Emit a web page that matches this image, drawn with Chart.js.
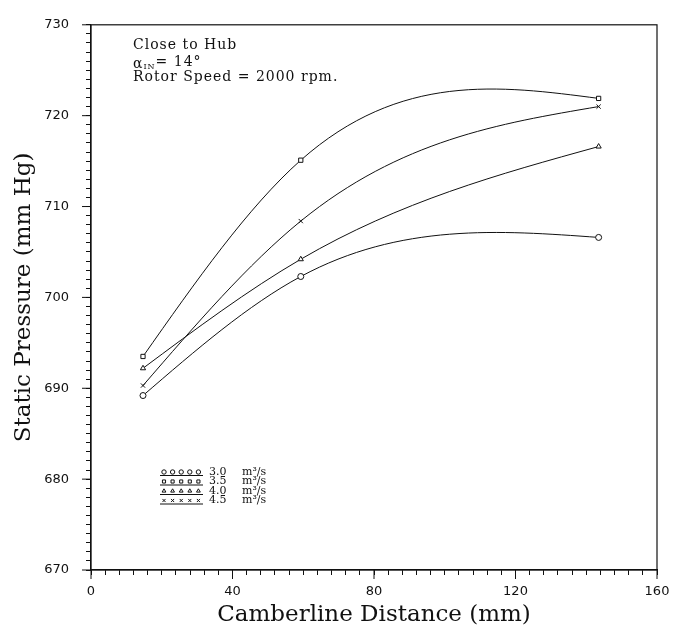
<!DOCTYPE html>
<html>
<head>
<meta charset="utf-8">
<script src="https://cdn.jsdelivr.net/npm/chart.js@4"></script>
<style>
  html, body { margin: 0; padding: 0; background: #fff; }
  #wrap { width: 684px; height: 630px; }
</style>
</head>
<body>
<div id="wrap"><canvas id="pressure"></canvas></div>
<script>
// values
const camberline = [14.7, 59.3, 143.5];
const flowLabels = ['3.0', '3.5', '4.0', '4.5'];
const pressure30 = [689.2, 702.3, 706.6];
const pressure35 = [693.5, 715.1, 721.9];
const pressure40 = [692.2, 704.2, 716.6];
const pressure45 = [690.3, 708.4, 721.0];
const markers = ['circle', 'rect', 'triangle', 'crossRot'];
const xMajorTicks = [0, 40, 80, 120, 160];
const yMajorTicks = [670, 680, 690, 700, 710, 720, 730];

const series = [pressure30, pressure35, pressure40, pressure45];
const INK = '#111';

const datasets = series.map((vals, i) => ({
  label: flowLabels[i] + ' m³/s',
  data: camberline.map((x, j) => ({ x: x, y: vals[j] })),
  showLine: false,
  borderColor: INK,
  backgroundColor: '#fff',
  pointStyle: markers[i],
  pointRadius: 3,
  pointBorderColor: INK,
  pointBackgroundColor: '#fff',
  pointBorderWidth: 1,
}));

// natural cubic spline through the point elements of each series,
// drawn segment by segment as bezier curves
const splineCurves = {
  id: 'splineCurves',
  beforeDatasetsDraw: (chart) => {
    const { ctx } = chart;
    ctx.save();
    ctx.strokeStyle = INK;
    ctx.lineWidth = 1;
    chart.data.datasets.forEach((ds, i) => {
      const pts = chart.getDatasetMeta(i).data;
      if (pts.length < 3) return;
      const [p0, p1, p2] = pts;
      const h0 = p1.x - p0.x, h1 = p2.x - p1.x;
      const s0 = (p1.y - p0.y) / h0, s1 = (p2.y - p1.y) / h1;
      const M1 = 6 * (s1 - s0) / (2 * (h0 + h1));
      const m0 = s0 - h0 * M1 / 6;
      const m1 = s0 + h0 * M1 / 3;
      const m2 = s1 + h1 * M1 / 6;
      const segs = [[p0, p1, m0, m1], [p1, p2, m1, m2]];
      ctx.beginPath();
      ctx.moveTo(p0.x, p0.y);
      segs.forEach(([u, v, mu, mv]) => {
        const t = (v.x - u.x) / 3;
        ctx.bezierCurveTo(u.x + t, u.y + mu * t, v.x - t, v.y - mv * t, v.x, v.y);
      });
      ctx.stroke();
    });
    ctx.restore();
  }
};

const frameAndExtras = {
  id: 'frameAndExtras',
  afterDraw: (chart) => {
    const { ctx, chartArea: a, scales } = chart;
    ctx.save();
    ctx.strokeStyle = INK;
    ctx.lineWidth = 1.2;
    ctx.strokeRect(a.left, a.top, a.right - a.left, a.bottom - a.top);

    // longer major ticks
    ctx.lineWidth = 1;
    ctx.beginPath();
    xMajorTicks.forEach(v => {
      const px = scales.x.getPixelForValue(v);
      ctx.moveTo(px, a.bottom);
      ctx.lineTo(px, a.bottom + 9);
    });
    yMajorTicks.forEach(v => {
      const py = scales.y.getPixelForValue(v);
      ctx.moveTo(a.left, py);
      ctx.lineTo(a.left - 9, py);
    });
    ctx.stroke();

    // notes in top-left
    ctx.fillStyle = INK;
    ctx.textBaseline = 'middle';
    ctx.textAlign = 'left';
    ctx.letterSpacing = '1px';
    ctx.font = '14px "DejaVu Serif"';
    ctx.fillText('Close to Hub', 133, 45);
    ctx.fillText('α', 133, 64);
    let ax = 133 + ctx.measureText('α').width;
    ctx.font = '8px "DejaVu Serif"';
    ctx.fillText('IN', ax, 67);
    ax += ctx.measureText('IN').width;
    ctx.font = '14px "DejaVu Serif"';
    ctx.fillText('= 14°', ax, 62);
    ctx.fillText('Rotor Speed = 2000 rpm.', 133, 77);
    ctx.letterSpacing = '0px';

    // legend
    chart.data.datasets.forEach((ds, i) => {
      const y = 472 + i * 9.5;
      ctx.strokeStyle = INK;
      ctx.beginPath();
      ctx.moveTo(160, y + 3.5);
      ctx.lineTo(203, y + 3.5);
      ctx.stroke();
      for (let k = 0; k < 5; k++) {
        ctx.fillStyle = '#fff';
        Chart.helpers.drawPoint(ctx, {
          pointStyle: ds.pointStyle, radius: 2.2, rotation: 0, borderWidth: 1
        }, 164 + k * 8.6, y);
      }
      ctx.fillStyle = INK;
      ctx.font = '11px "DejaVu Serif"';
      ctx.fillText(flowLabels[i], 209, y);
      ctx.fillText('m³/s', 242, y);
    });
    ctx.restore();
  }
};

new Chart(document.getElementById('pressure'), {
  type: 'line',
  data: { datasets: datasets },
  options: {
    responsive: true,
    maintainAspectRatio: false,
    animation: false,
    layout: { padding: { top: 10, right: 27, left: 0, bottom: 0 } },
    plugins: {
      legend: { display: false },
      tooltip: { enabled: false },
    },
    scales: {
      x: {
        type: 'linear',
        min: 0,
        max: 160,
        afterFit: (s) => { s.height = 60; },
        border: { display: true, color: INK, width: 1.2 },
        grid: { drawOnChartArea: false, drawTicks: true, tickLength: 5, tickColor: INK, tickWidth: 1 },
        ticks: {
          stepSize: 4,
          autoSkip: false,
          maxRotation: 0,
          padding: 9,
          color: INK,
          font: { family: '"DejaVu Sans"', size: 13 },
          callback: (v) => (v % 40 === 0 ? v : ''),
        },
        title: {
          display: true,
          text: 'Camberline Distance (mm)',
          color: INK,
          font: { family: '"DejaVu Serif"', size: 23 },
          padding: { top: 0, bottom: 1 },
        },
      },
      y: {
        min: 670,
        max: 730,
        afterFit: (s) => { s.width = 91; },
        border: { display: true, color: INK, width: 1.2 },
        grid: { drawOnChartArea: false, drawTicks: true, tickLength: 5, tickColor: INK, tickWidth: 1 },
        ticks: {
          stepSize: 1,
          autoSkip: false,
          padding: 17,
          color: INK,
          font: { family: '"DejaVu Sans"', size: 13 },
          callback: (v) => (v % 10 === 0 ? v : ''),
        },
        title: {
          display: true,
          text: 'Static Pressure (mm Hg)',
          color: INK,
          font: { family: '"DejaVu Serif"', size: 23 },
          padding: { top: 10, bottom: 0 },
        },
      },
    },
  },
  plugins: [splineCurves, frameAndExtras],
});
</script>
</body>
</html>
